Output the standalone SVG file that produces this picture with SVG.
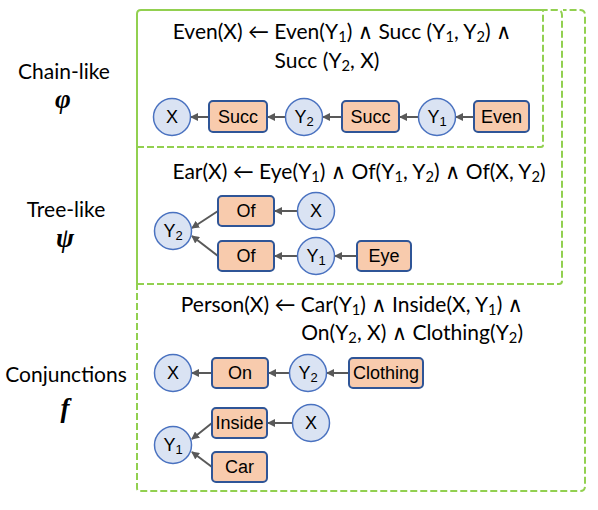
<svg xmlns="http://www.w3.org/2000/svg" width="598" height="510" viewBox="0 0 598 510">
<style>
.frame{fill:none;stroke:#92D050;stroke-width:2;stroke-dasharray:7 3}
.solid{fill:none;stroke:#92D050;stroke-width:2}
.var circle{fill:#DAE3F3;stroke:#4A72C0;stroke-width:1.5}
.pred rect{fill:#F8CBAD;stroke:#2F5597;stroke-width:2}
.lbl{font-family:"Liberation Sans",Arial,sans-serif;font-size:18px;fill:#000;text-anchor:middle}
.formula{font-family:Lato,"Liberation Sans","DejaVu Sans",sans-serif;font-size:21px;fill:#000}
.side{font-family:Lato,"Liberation Sans",sans-serif;font-size:21px;fill:#000;text-anchor:middle}
.greek{font-family:"Liberation Serif","DejaVu Serif",serif;font-size:27px;font-weight:bold;font-style:italic;fill:#000;text-anchor:middle}
.sub{font-size:70%;baseline-shift:-3px}
.nsub{font-size:13px;baseline-shift:-3px}
.edge{stroke:#595959;stroke-width:2;fill:none;marker-end:url(#ah)}
</style>
<defs>
<marker id="ah" viewBox="0 0 8 8" refX="7" refY="4" markerWidth="4" markerHeight="4" orient="auto" markerUnits="strokeWidth">
<path d="M0,0 L8,4 L0,8 z" fill="#595959"/>
</marker>
</defs>
<rect width="598" height="510" fill="#fff"/>

<!-- frames -->
<g id="frames">
<path class="frame" d="M137,283 L137,488 Q137,491 140,491 L580,491 Q585,491 585,486 L585,15 Q585,10 580,10 L563,10"/>
<path class="frame" d="M137,284 L559,284 Q562,284 562,281 L562,15 Q562,10 557,10 L543,10"/>
<path class="frame" d="M137,147 L541,147 Q543,147 543,145 L543,10"/>
<path class="solid" d="M137,284 L137,14 Q137,10 141,10 L543,10"/>
</g>

<!-- side labels -->
<g id="side-labels">
<text class="side" x="64" y="79">Chain-like</text>
<text class="greek" x="63" y="108">φ</text>
<text class="side" x="66" y="217">Tree-like</text>
<text class="greek" x="65" y="247">ψ</text>
<text class="side" x="66" y="382">Conjunctions</text>
<text class="greek" x="65" y="417">f</text>
</g>

<!-- formulas -->
<g id="formulas">
<text class="formula" x="342" y="39" text-anchor="middle">Even(X) ← Even(Y<tspan class="sub">1</tspan>) ∧ Succ (Y<tspan class="sub">1</tspan>, Y<tspan class="sub">2</tspan>) ∧</text>
<text class="formula" x="327" y="68" text-anchor="middle">Succ (Y<tspan class="sub">2</tspan>, X)</text>
<text class="formula" x="359" y="179" text-anchor="middle">Ear(X) ← Eye(Y<tspan class="sub">1</tspan>) ∧ Of(Y<tspan class="sub">1</tspan>, Y<tspan class="sub">2</tspan>) ∧ Of(X, Y<tspan class="sub">2</tspan>)</text>
<text class="formula" x="523" y="312" text-anchor="end">Person(X) ← Car(Y<tspan class="sub">1</tspan>) ∧ Inside(X, Y<tspan class="sub">1</tspan>) ∧</text>
<text class="formula" x="523" y="340" text-anchor="end">On(Y<tspan class="sub">2</tspan>, X) ∧ Clothing(Y<tspan class="sub">2</tspan>)</text>
</g>

<!-- connectors -->
<g id="connectors">
<line class="edge" x1="209" y1="117" x2="191" y2="117"/>
<line class="edge" x1="286" y1="117" x2="268" y2="117"/>
<line class="edge" x1="342" y1="117" x2="323" y2="117"/>
<line class="edge" x1="419" y1="117" x2="400" y2="117"/>
<line class="edge" x1="474" y1="117" x2="456" y2="117"/>

<line class="edge" x1="218" y1="211" x2="192" y2="228"/>
<line class="edge" x1="218" y1="256" x2="192" y2="236"/>
<line class="edge" x1="297" y1="211" x2="275" y2="211"/>
<line class="edge" x1="297" y1="256" x2="275" y2="256"/>
<line class="edge" x1="357" y1="256" x2="335" y2="256"/>

<line class="edge" x1="212" y1="373" x2="192" y2="373"/>
<line class="edge" x1="289" y1="373" x2="269" y2="373"/>
<line class="edge" x1="349" y1="373" x2="327" y2="373"/>
<line class="edge" x1="212" y1="423" x2="192" y2="439"/>
<line class="edge" x1="212" y1="467" x2="192" y2="452"/>
<line class="edge" x1="292" y1="423" x2="268" y2="423"/>
</g>

<!-- chain-like nodes -->
<g id="chain-x" class="var"><circle cx="172" cy="117" r="18.5"/><text class="lbl" x="172" y="123">X</text></g>
<g id="chain-succ1" class="pred"><rect x="209" y="101" width="58" height="31" rx="4"/><text class="lbl" x="238" y="123">Succ</text></g>
<g id="chain-y2" class="var"><circle cx="304" cy="117" r="18.5"/><text class="lbl" x="304" y="123">Y<tspan class="nsub">2</tspan></text></g>
<g id="chain-succ2" class="pred"><rect x="342" y="101" width="57" height="31" rx="4"/><text class="lbl" x="370.5" y="123">Succ</text></g>
<g id="chain-y1" class="var"><circle cx="437" cy="117" r="18.5"/><text class="lbl" x="437" y="123">Y<tspan class="nsub">1</tspan></text></g>
<g id="chain-even" class="pred"><rect x="474" y="101" width="55" height="31" rx="4"/><text class="lbl" x="501.5" y="123">Even</text></g>

<!-- tree-like nodes -->
<g id="tree-y2" class="var"><circle cx="173" cy="231" r="18.5"/><text class="lbl" x="173" y="237">Y<tspan class="nsub">2</tspan></text></g>
<g id="tree-of1" class="pred"><rect x="218" y="196" width="56" height="30" rx="4"/><text class="lbl" x="246" y="217">Of</text></g>
<g id="tree-x" class="var"><circle cx="316" cy="211" r="18.5"/><text class="lbl" x="316" y="217">X</text></g>
<g id="tree-of2" class="pred"><rect x="218" y="241" width="56" height="30" rx="4"/><text class="lbl" x="246" y="262">Of</text></g>
<g id="tree-y1" class="var"><circle cx="316" cy="256" r="18.5"/><text class="lbl" x="316" y="262">Y<tspan class="nsub">1</tspan></text></g>
<g id="tree-eye" class="pred"><rect x="357" y="241" width="54" height="30" rx="4"/><text class="lbl" x="384" y="262">Eye</text></g>

<!-- conjunction nodes -->
<g id="conj-x1" class="var"><circle cx="173" cy="373" r="18.5"/><text class="lbl" x="173" y="379">X</text></g>
<g id="conj-on" class="pred"><rect x="212" y="358" width="56" height="30" rx="4"/><text class="lbl" x="240" y="379">On</text></g>
<g id="conj-y2" class="var"><circle cx="308" cy="373" r="18.5"/><text class="lbl" x="308" y="379">Y<tspan class="nsub">2</tspan></text></g>
<g id="conj-clothing" class="pred"><rect x="349" y="358" width="74" height="30" rx="4"/><text class="lbl" x="386" y="379">Clothing</text></g>
<g id="conj-inside" class="pred"><rect x="212" y="408" width="55" height="30" rx="4"/><text class="lbl" x="239.5" y="429">Inside</text></g>
<g id="conj-x2" class="var"><circle cx="311" cy="423" r="18.5"/><text class="lbl" x="311" y="429">X</text></g>
<g id="conj-y1" class="var"><circle cx="173" cy="445" r="18.5"/><text class="lbl" x="173" y="451">Y<tspan class="nsub">1</tspan></text></g>
<g id="conj-car" class="pred"><rect x="212" y="452" width="55" height="30" rx="4"/><text class="lbl" x="239.5" y="473">Car</text></g>
</svg>
